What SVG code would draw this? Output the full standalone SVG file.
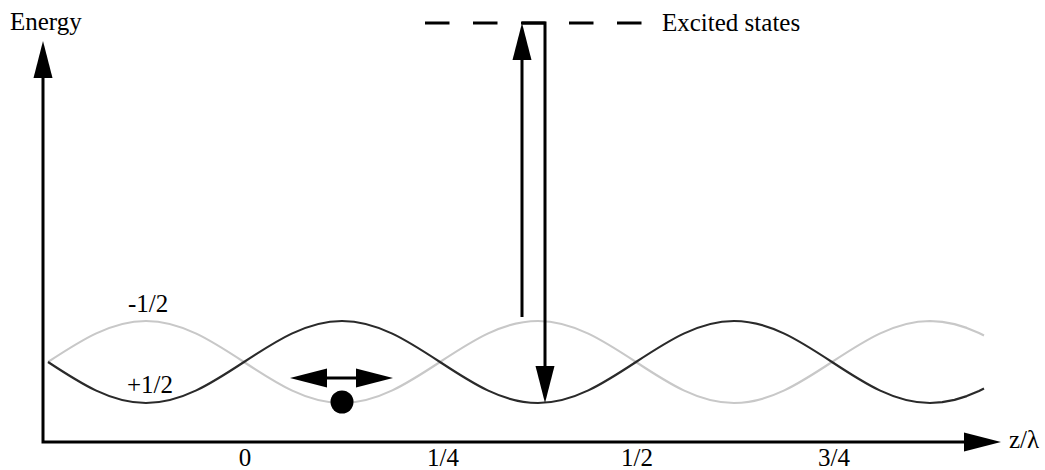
<svg xmlns="http://www.w3.org/2000/svg" width="1045" height="470" viewBox="0 0 1045 470">
<style>
text{font-family:"Liberation Serif","Times New Roman",serif;font-size:25px;fill:#000}
.ax{fill:none;stroke:#000;stroke-width:3}
.wave{fill:none;stroke-width:2.2;stroke-linejoin:round}
</style>
<defs>
<marker id="ah" markerUnits="userSpaceOnUse" markerWidth="40" markerHeight="20" refX="0" refY="9.5" orient="auto-start-reverse" overflow="visible">
<path d="M0,0 L37,9.5 L0,19 Z" fill="#000"/>
</marker>
</defs>
<rect width="1045" height="470" fill="#fff"/>
<g id="waves">
<path id="minus-half" class="wave" stroke="#c8c8c8" d="M48,362 c31.96,-21 62.53,-41 98,-41 c35.47,0 66.04,20 98,41 c31.96,21 62.53,41 98,41 c35.47,0 66.04,-20 98,-41 c31.96,-21 62.53,-41 98,-41 c35.47,0 66.04,20 98,41 c31.96,21 62.53,41 98,41 c35.47,0 66.04,-20 98,-41 c31.96,-21 62.53,-41 98,-41 L942.25,321.8 L954.5,324.1 L966.75,327.9 L979,333 L984,335.4"/>
<path id="plus-half" class="wave" stroke="#2a2a2a" d="M48,362 c31.96,21 62.53,41 98,41 c35.47,0 66.04,-20 98,-41 c31.96,-21 62.53,-41 98,-41 c35.47,0 66.04,20 98,41 c31.96,21 62.53,41 98,41 c35.47,0 66.04,-20 98,-41 c31.96,-21 62.53,-41 98,-41 c35.47,0 66.04,20 98,41 c31.96,21 62.53,41 98,41 L942.25,402.2 L954.5,399.9 L966.75,396.1 L979,391 L984,388.6"/>
</g>
<g id="connectors">
<path id="axes" class="ax" d="M43,78 V442 H964" marker-start="url(#ah)" marker-end="url(#ah)"/>
<line id="excited-level" class="ax" x1="425" y1="23" x2="642" y2="23" stroke-dasharray="24.5 23.5"/>
<line id="up-arrow" class="ax" x1="522" y1="317" x2="522" y2="60" marker-end="url(#ah)"/>
<path id="down-arrow" class="ax" d="M522,23 H545 V366" marker-end="url(#ah)"/>
<line id="motion-arrow" class="ax" x1="327" y1="378" x2="356" y2="378" marker-start="url(#ah)" marker-end="url(#ah)"/>
</g>
<g id="atom"><circle cx="342" cy="402" r="11.5" fill="#000"/></g>
<g id="labels">
<text x="10" y="30">Energy</text>
<text x="662" y="31">Excited states</text>
<text x="128" y="312">-1/2</text>
<text x="127" y="393">+1/2</text>
<text x="245" y="466" text-anchor="middle">0</text>
<text x="443" y="466" text-anchor="middle">1/4</text>
<text x="637" y="466" text-anchor="middle">1/2</text>
<text x="834" y="466" text-anchor="middle">3/4</text>
<text x="1009" y="448">z/λ</text>
</g>
</svg>
